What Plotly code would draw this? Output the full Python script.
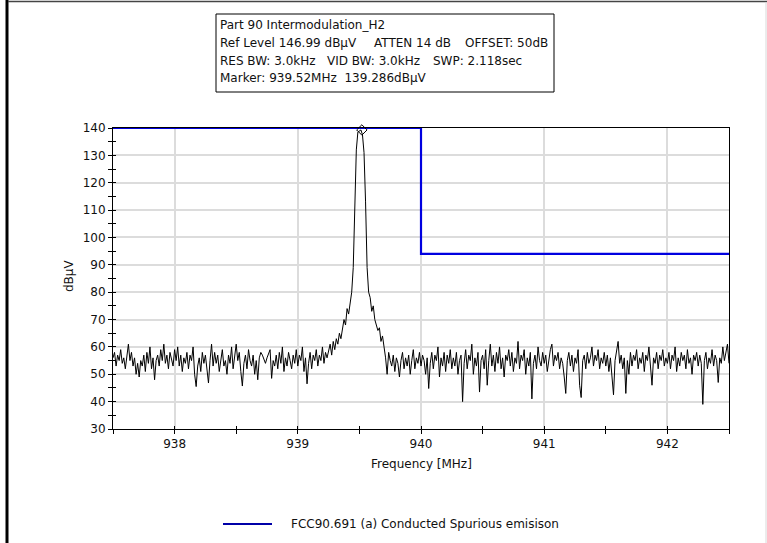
import numpy as np
import plotly.graph_objects as go

# ---------------- data ----------------
freq_start = 937.5
freq_stop = 942.5
trace_level = [
    56, 58, 53, 57, 55, 59, 54, 56, 52, 57, 61, 55, 58, 53, 56, 50, 54, 49, 55, 53,
    57, 51, 58, 54, 60, 52, 56, 48, 55, 57, 53, 59, 55, 61, 54, 57, 52, 58, 56, 53,
    59, 55, 60, 53, 57, 51, 56, 54, 58, 52, 57, 55, 60, 50, 45.5, 53, 56, 51, 58, 54,
    57, 52, 46.8, 55, 61, 53, 58, 54, 57, 51, 56, 59, 53, 55, 50, 57, 54, 60, 52, 56,
    61, 55, 58, 51, 45.7, 54, 57, 52, 59, 55, 53, 57, 50, 55, 48, 56, 58, 57, 55, 54,
    56, 58, 59, 48.5, 55, 53, 57, 52, 58, 54, 60, 51, 56, 53, 58, 55, 52, 57, 54, 59,
    53, 57, 55, 60, 51, 56, 46.5, 54, 58, 52, 57, 55, 59, 53, 57, 55, 60, 54, 58, 56,
    58, 61, 57, 62, 59, 63, 61, 65, 63, 67,
    70, 68, 74, 72, 77, 80, 89, 113, 132, 138.5, 139.0, 139.29, 137.5, 131, 113, 89, 80, 78, 73, 75,
    70, 68, 66, 67, 62, 64,
    60, 56, 50, 58, 55, 53, 57, 51, 56, 54, 49, 55, 58, 52, 56, 53, 57, 50, 55, 59, 52, 56, 54, 58,
    53, 57, 55, 50, 56, 44.8, 54, 58, 52, 57, 55, 60, 49, 56, 53, 58, 51, 57, 54, 59,
    52, 56, 53, 58, 50, 55, 57, 40, 54, 59, 52, 57, 55, 61, 50, 56, 53, 58, 43.5, 55,
    57, 52, 59, 46, 55, 61, 53, 57, 51, 58, 54, 60, 52, 56, 49, 57, 55, 59, 53, 58,
    51, 56, 54, 62, 52, 57, 55, 59, 50, 56, 53, 58, 41, 54, 57, 52, 60, 55, 53, 58,
    54, 57, 51, 56, 59, 61, 53, 57, 55, 58, 52, 56, 54, 49, 43, 55, 58, 53, 57, 51,
    56, 54, 59, 46, 41.5, 55, 57, 52, 58, 54, 56, 60, 53, 57, 55, 59, 52, 56, 54, 58,
    53, 57, 51, 56, 49, 42.5, 55, 58, 62, 54, 57, 52, 56, 43, 55, 50, 58, 53, 57, 55,
    59, 52, 56, 54, 58, 51, 57, 55, 60, 53, 46, 56, 54, 58, 52, 57, 55, 59, 53, 56,
    54, 58, 52, 57, 55, 60, 51, 56, 53, 58, 55, 57, 52, 59, 54, 56, 50, 57, 55, 58,
    53, 57, 54, 39, 55, 58, 52, 56, 54, 59, 53, 57, 55, 47, 56, 54, 60, 55, 58, 61, 54,
]
trace_freq = np.linspace(freq_start, freq_stop, len(trace_level))

limit_freq = [937.5, 940.0, 940.0, 942.5]
limit_level = [140, 140, 94, 94]

marker_freq = [939.52]
marker_level = [139.286]

x_ticks = [938, 939, 940, 941, 942]
y_ticks = [30, 40, 50, 60, 70, 80, 90, 100, 110, 120, 130, 140]

# info box text: one list per line, each entry is (left pixel, text)
info_lines = [
    [(218, "Part 90 Intermodulation_H2")],
    [(218, "Ref Level 146.99 dBµV"), (372, "ATTEN 14 dB"), (463, "OFFSET: 50dB")],
    [(218, "RES BW: 3.0kHz"), (325, "VID BW: 3.0kHz"), (431, "SWP: 2.118sec")],
    [(218, "Marker: 939.52MHz  139.286dBµV")],
]
legend_label = "FCC90.691 (a) Conducted Spurious emisison"

# ---------------- layout helpers ----------------
FW, FH = 767, 543
L, R, T, B = 113, 729, 128, 429
PW, PH = R - L, B - T
FONT = "DejaVu Sans, Arial, sans-serif"
FS = 12


def px(x):
    return (x - L) / PW


def py(y):
    return (B - y) / PH


fig = go.Figure()

fig.add_trace(go.Scatter(
    x=trace_freq, y=trace_level, mode="lines",
    line=dict(color="black", width=1), showlegend=False, hoverinfo="skip"))

fig.add_trace(go.Scatter(
    x=limit_freq, y=limit_level, mode="lines",
    line=dict(color="#0000e0", width=2.2), name=legend_label, showlegend=False))

fig.add_trace(go.Scatter(
    x=marker_freq, y=marker_level, mode="markers",
    marker=dict(symbol="diamond-open", size=8, color="black", line=dict(width=1)),
    showlegend=False, cliponaxis=False))

# invisible trace on overlay axes (used only for inward tick marks)
fig.add_trace(go.Scatter(x=[freq_start], y=[30], xaxis="x2", yaxis="y2",
                         mode="markers", marker=dict(opacity=0), showlegend=False,
                         hoverinfo="skip"))

axis_common = dict(
    showline=True, linecolor="black", linewidth=1, mirror=True,
    showgrid=True, gridcolor="#dcdcdc", gridwidth=1.5,
    ticks="outside", ticklen=4, tickcolor="black", tickwidth=1,
    tickfont=dict(family=FONT, size=FS, color="#111"),
    zeroline=False,
)
inner_common = dict(
    showline=False, showgrid=False, zeroline=False, showticklabels=False,
    ticks="inside", ticklen=3, tickcolor="black", tickwidth=1,
)

fig.update_layout(
    width=FW, height=FH,
    margin=dict(l=L, r=FW - R, t=T, b=FH - B, pad=0),
    paper_bgcolor="white", plot_bgcolor="white",
    font=dict(family=FONT, size=FS, color="#111"),
    xaxis=dict(range=[freq_start, freq_stop], tickvals=x_ticks,
               minor=dict(dtick=0.5, tick0=937.5, ticks="outside", ticklen=4,
                          tickcolor="black", showgrid=False),
               **axis_common),
    yaxis=dict(range=[30, 140], tickvals=y_ticks,
               minor=dict(dtick=5, ticks="outside", ticklen=4,
                          tickcolor="black", showgrid=False),
               **axis_common),
    xaxis2=dict(range=[freq_start, freq_stop], overlaying="x", anchor="y2", side="bottom",
                tickvals=x_ticks,
                minor=dict(dtick=0.5, tick0=937.5, ticks="inside", ticklen=3,
                           tickcolor="black", showgrid=False),
                **inner_common),
    yaxis2=dict(range=[30, 140], overlaying="y", anchor="x2", side="left",
                tickvals=y_ticks,
                minor=dict(dtick=5, ticks="inside", ticklen=3,
                           tickcolor="black", showgrid=False),
                **inner_common),
    showlegend=False,
)

shapes = []
annotations = []

# info box
shapes.append(dict(type="rect", xref="paper", yref="paper",
                   x0=px(216), x1=px(554), y0=py(92), y1=py(14),
                   line=dict(color="black", width=1), fillcolor="white", layer="above"))
for i, segs in enumerate(info_lines):
    for xl, txt in segs:
        annotations.append(dict(xref="paper", yref="paper", x=px(xl), y=py(25.5 + i * 17.6),
                                xanchor="left", yanchor="middle", showarrow=False,
                                text=txt, font=dict(family=FONT, size=FS, color="#111")))

# axis titles
annotations.append(dict(xref="paper", yref="paper", x=px(421), y=py(464),
                        xanchor="center", yanchor="middle", showarrow=False,
                        text="Frequency [MHz]", font=dict(family=FONT, size=FS, color="#111")))
annotations.append(dict(xref="paper", yref="paper", x=px(69), y=py(276),
                        xanchor="center", yanchor="middle", showarrow=False, textangle=-90,
                        text="dBµV", font=dict(family=FONT, size=FS, color="#111")))

# legend
shapes.append(dict(type="line", xref="paper", yref="paper",
                   x0=px(223), x1=px(272), y0=py(524), y1=py(524),
                   line=dict(color="#0000a8", width=2.2)))
annotations.append(dict(xref="paper", yref="paper", x=px(289), y=py(524),
                        xanchor="left", yanchor="middle", showarrow=False,
                        text=legend_label, font=dict(family=FONT, size=FS, color="#111")))

# outer window frame
shapes.append(dict(type="line", xref="paper", yref="paper",
                   x0=px(7), x1=px(7), y0=py(0), y1=py(FH),
                   line=dict(color="black", width=3)))
shapes.append(dict(type="line", xref="paper", yref="paper",
                   x0=px(8), x1=px(FW), y0=py(1.5), y1=py(1.5),
                   line=dict(color="#444", width=1.5)))
shapes.append(dict(type="line", xref="paper", yref="paper",
                   x0=px(766), x1=px(766), y0=py(2), y1=py(FH),
                   line=dict(color="#d8d8d8", width=1)))

fig.update_layout(shapes=shapes, annotations=annotations)

fig.write_html("out.html", config={"displayModeBar": False},
               post_script="document.body.style.margin='0px';document.body.style.overflow='hidden';")
